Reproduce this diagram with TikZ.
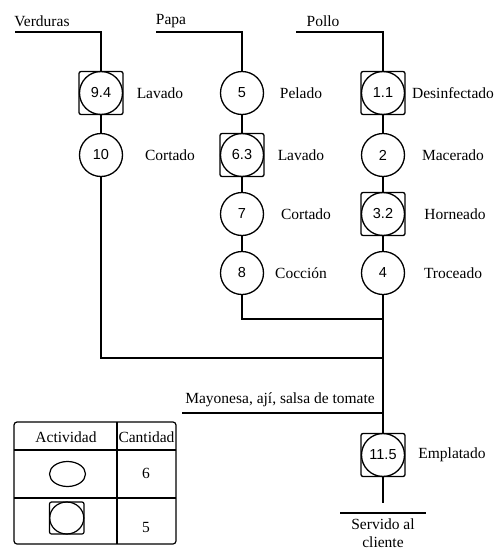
\documentclass[tikz,border=0pt]{standalone}
\usepackage{fontspec}
\setmainfont{Liberation Serif}
\newfontfamily\numfont{Liberation Sans}
\begin{document}
\begin{tikzpicture}[x=1pt,y=-1pt,line width=1.2pt,
  proc/.style={circle,draw,line width=1.3pt,minimum size=43pt,inner sep=0pt,font=\numfont\fontsize{14.5}{16}\selectfont},
  insp/.style={proc,append after command={
     \pgfextra{\draw[line width=1.3pt,rounded corners=2pt] (\tikzlastnode.center) ++(-22,-21.5) rectangle ++(44,43);}}},
  lbl/.style={font=\fontsize{15.5}{18}\selectfont},
  ttl/.style={font=\fontsize{15.5}{18}\selectfont},
  tbl/.style={font=\fontsize{15.5}{18}\selectfont},
  ln/.style={line width=1.2pt}]
\useasboundingbox (0,0) rectangle (495,552);
% top labels
\node[ttl] (tv) at (42,21) {Verduras};
\node[ttl] (tp) at (171,21) {Papa};
\node[ttl] (tq) at (323,21) {Pollo};
\coordinate (v0) at (15,32);
\coordinate (p0) at (156,32);
\coordinate (q0) at (296,32);
% Verduras column
\node[insp] (a1) at (101,93) {9.4};
\node[proc] (a2) at (101,155) {10};
\node[lbl] at (160,93) {Lavado};
\node[lbl] at (170,155) {Cortado};
% Papa column
\node[proc] (b1) at (242,93) {5};
\node[insp] (b2) at (242,155) {6.3};
\node[proc] (b3) at (242,214) {7};
\node[proc] (b4) at (242,273) {8};
\node[lbl] at (301,93) {Pelado};
\node[lbl] at (301,155) {Lavado};
\node[lbl] at (306,214) {Cortado};
\node[lbl] at (301,273) {Cocción};
% Pollo column
\node[insp] (c1) at (383,93) {1.1};
\node[proc] (c2) at (383,155) {2};
\node[insp] (c3) at (383,214) {3.2};
\node[proc] (c4) at (383,273) {4};
\node[lbl] at (453,93) {Desinfectado};
\node[lbl] at (453,155) {Macerado};
\node[lbl] at (455,214) {Horneado};
\node[lbl] at (453,273) {Troceado};
% Emplatado
\node[insp] (e1) at (383,455) {11.5};
\node[lbl] at (452,455) {Emplatado};
% connectors
\draw[ln] (v0) -| (a1.north);
\draw[ln] (p0) -| (b1.north);
\draw[ln] (q0) -| (c1.north);
\draw[ln] (a1) -- (a2);
\draw[ln] (b1) -- (b2); \draw[ln] (b2) -- (b3); \draw[ln] (b3) -- (b4);
\draw[ln] (c1) -- (c2); \draw[ln] (c2) -- (c3); \draw[ln] (c3) -- (c4);
\coordinate (j1) at (383,319);
\coordinate (j2) at (383,358);
\coordinate (j3) at (383,413);
\draw[ln] (c4) -- (e1);
\draw[ln] (b4.south) |- (j1);
\draw[ln] (a2.south) |- (j2);
\coordinate (m0) at (182,413);
\draw[ln] (m0) -- (j3);
\node[lbl,anchor=south] (mt) at (280,411) {Mayonesa, ají, salsa de tomate};
\coordinate (e2) at (383,503);
\draw[ln] (e1) -- (e2);
\coordinate (s0) at (340,513);
\coordinate (s1) at (426,513);
\draw[ln] (s0) -- (s1);
\node[lbl,align=center,anchor=north] (sv) at (383,515) {Servido al\\cliente};
% legend table
\draw[line width=1.2pt,rounded corners=3pt] (14,422) rectangle (176,544);
\draw[ln] (117,422) -- (117,544);
\draw[ln] (14,450) -- (176,450);
\draw[ln] (14,498) -- (176,498);
\node[tbl] (h1) at (66,437) {Actividad};
\node[tbl] (h2) at (146.5,437) {Cantidad};
\draw[line width=1.2pt] (67.5,474) ellipse [x radius=18, y radius=12.5];
\node[tbl] (n6) at (146,473) {6};
\draw[line width=1.2pt,rounded corners=2pt] (49.5,502) rectangle (84,534);
\draw[line width=1.2pt] (66.75,518) ellipse [x radius=17, y radius=16];
\node[tbl] (n5) at (146,527) {5};
\end{tikzpicture}
\end{document}
